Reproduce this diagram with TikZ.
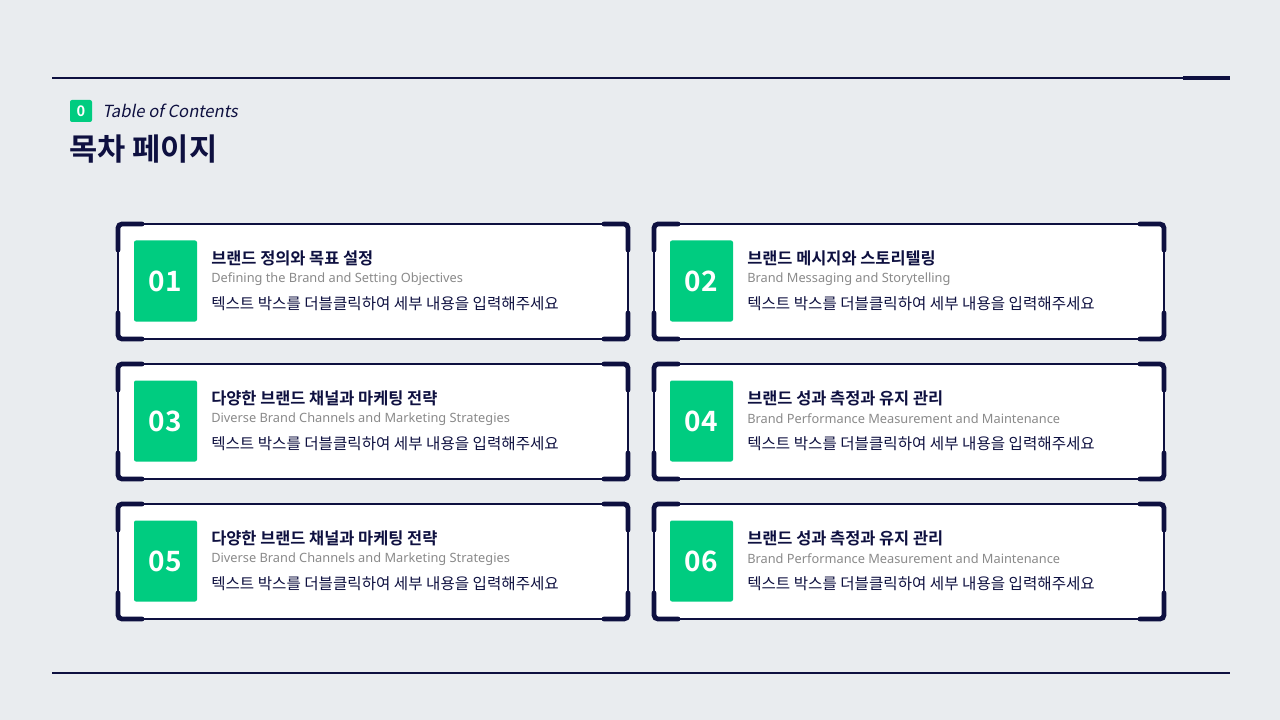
\documentclass[tikz,border=0pt]{standalone}
\usepackage{fontspec}
\setmainfont{Noto Sans CJK KR}
\newfontfamily\kr{Noto Sans CJK KR}
\newfontfamily\krslant[FakeSlant=0.2]{Noto Sans CJK KR}
\newfontfamily\krbold{Noto Sans CJK KR Bold}
\newfontfamily\subf{Noto Sans}
\definecolor{navy}{HTML}{0E1040}
\definecolor{grn}{HTML}{00CC80}
\definecolor{bg}{HTML}{E9ECEF}
\definecolor{sub}{HTML}{8A8A8A}
\tikzset{
 frame/.style={draw=navy,line width=1.3pt,fill=white,rounded corners=3pt},
 brk/.style={draw=navy,line width=3.6pt,line cap=round,rounded corners=3pt},
 num/.style={fill=grn,minimum width=47.25pt,minimum height=60.75pt,inner sep=0pt,rounded corners=1.5pt,text=white,font=\krbold\fontsize{21}{21}\selectfont},
 ttl/.style={anchor=west,inner sep=0pt,text=navy,font=\krbold\fontsize{12.3}{12.3}\selectfont},
 sbt/.style={anchor=west,inner sep=0pt,text=sub,font=\subf\fontsize{9.6}{9.6}\selectfont},
 bdy/.style={anchor=west,inner sep=0pt,text=navy,font=\kr\fontsize{11.7}{11.7}\selectfont}
}
\newcommand{\tocbox}[6]{%
 \begin{scope}[shift={(#1,#2)}]
  \path[frame] (0,0) rectangle (510,115);
  \draw[brk] (0,26)--(0,0)--(24,0);
  \draw[brk] (486,0)--(510,0)--(510,26);
  \draw[brk] (0,89)--(0,115)--(24,115);
  \draw[brk] (486,115)--(510,115)--(510,89);
  \node[num] (n#3) at (47.5,57) {#3};
  \node[ttl] (t#3) at (93,34) {#4};
  \node[sbt] (s#3) at (93,55) {#5};
  \node[bdy] (b#3) at (93,80) {#6};
 \end{scope}}
\begin{document}
\begin{tikzpicture}[x=0.75pt,y=-0.75pt]
\fill[bg] (0,0) rectangle (1280,720);
\useasboundingbox (0,0) rectangle (1280,720);
\draw[navy,line width=1.4pt] (52,78)--(1230,78);
\draw[navy,line width=3.6pt] (1183,78)--(1230,78);
\draw[navy,line width=1.1pt] (52,673)--(1230,673);
\node[fill=grn,minimum width=16.5pt,minimum height=16.5pt,inner sep=0pt,rounded corners=1.5pt,text=white,font=\krbold\fontsize{11}{11}\selectfont] (z) at (81,111) {0};
\node[anchor=west,inner sep=0pt,text=navy,font=\krslant\fontsize{12.5}{12.5}\selectfont] (toc) at (102,111) {Table of Contents};
\node[anchor=west,inner sep=0pt,text=navy,font=\krbold\fontsize{23}{23}\selectfont] (head) at (69,149) {목차 페이지};
\tocbox{118}{224}{01}{브랜드 정의와 목표 설정}{Defining the Brand and Setting Objectives}{텍스트 박스를 더블클릭하여 세부 내용을 입력해주세요}
\tocbox{654}{224}{02}{브랜드 메시지와 스토리텔링}{Brand Messaging and Storytelling}{텍스트 박스를 더블클릭하여 세부 내용을 입력해주세요}
\tocbox{118}{364}{03}{다양한 브랜드 채널과 마케팅 전략}{Diverse Brand Channels and Marketing Strategies}{텍스트 박스를 더블클릭하여 세부 내용을 입력해주세요}
\tocbox{654}{364}{04}{브랜드 성과 측정과 유지 관리}{Brand Performance Measurement and Maintenance}{텍스트 박스를 더블클릭하여 세부 내용을 입력해주세요}
\tocbox{118}{504}{05}{다양한 브랜드 채널과 마케팅 전략}{Diverse Brand Channels and Marketing Strategies}{텍스트 박스를 더블클릭하여 세부 내용을 입력해주세요}
\tocbox{654}{504}{06}{브랜드 성과 측정과 유지 관리}{Brand Performance Measurement and Maintenance}{텍스트 박스를 더블클릭하여 세부 내용을 입력해주세요}
\end{tikzpicture}
\end{document}
